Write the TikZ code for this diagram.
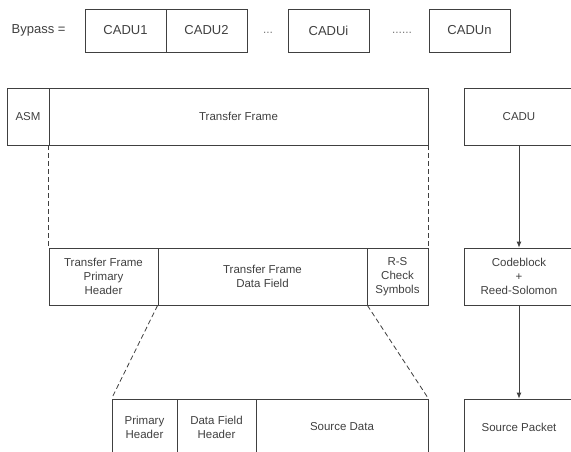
\documentclass[tikz,border=0pt]{standalone}
\usepackage{fontspec}
\setmainfont{Liberation Sans}
\usetikzlibrary{arrows.meta}

\begin{document}
\begin{tikzpicture}[x=1pt, y=-1pt,
        field/.style={draw=black!75, line width=0.8pt, text=black!75, align=center,
            inner sep=0pt, font=\fontsize{11.5}{14}\selectfont},
        cadu/.style={field, minimum width=81, minimum height=43, font=\fontsize{13}{15}\selectfont},
        gap/.style={text=black!75, inner sep=0pt, font=\fontsize{10}{10}\selectfont},
        split/.style={dashed, draw=black!75, line width=0.8pt, dash pattern=on 5pt off 3pt},
        flow/.style={draw=black!75, line width=0.8pt, -{Latex[length=6pt, width=5pt]}}]
    \useasboundingbox (0,0) rectangle (571,452);

    % bypass stream
    \node[text=black!75, font=\fontsize{13}{15}\selectfont, anchor=east] (bypass) at (69,30.5) {Bypass =};
    \node[cadu] (cadu1) at (125.5,30.5) {CADU1};
    \node[cadu] (cadu2) at (206.5,30.5) {CADU2};
    \node[gap] (dots1) at (268,34) {···};
    \node[cadu] (cadui) at (328.5,30.5) {CADUi};
    \node[gap] (dots2) at (402,34) {······};
    \node[cadu] (cadun) at (469.5,30.5) {CADUn};

    % frame
    \node[field, minimum width=42, minimum height=57] (asm) at (28,116.5) {ASM};
    \node[field, minimum width=379, minimum height=57] (tf) at (238.5,116.5) {Transfer Frame};

    \node[field, minimum width=109, minimum height=57] (tfph) at (103.5,276.5) {Transfer Frame\\Primary\\Header};
    \node[field, minimum width=209, minimum height=57] (tfdf) at (262.5,276.5) {Transfer Frame\\Data Field};
    \node[field, minimum width=61, minimum height=57] (rs) at (397.5,276.5) {R-S\\Check\\Symbols};

    \node[field, minimum width=65, minimum height=56] (ph) at (144.5,427) {Primary\\Header};
    \node[field, minimum width=79, minimum height=56] (dfh) at (216.5,427) {Data Field\\Header};
    \node[field, minimum width=172, minimum height=56] (sd) at (342,427) {Source Data};

    \draw[split] (tf.south west) -- (tfph.north west);
    \draw[split] (tf.south east) -- (rs.north east);
    \draw[split] (tfdf.south west) -- (ph.north west);
    \draw[split] (tfdf.south east) -- (sd.north east);

    % layers
    \node[field, minimum width=110, minimum height=57] (caduL) at (519,116.5) {CADU};
    \node[field, minimum width=110, minimum height=57] (code) at (519,276.5) {Codeblock\\+\\Reed-Solomon};
    \node[field, minimum width=110, minimum height=56] (packet) at (519,427) {Source Packet};

    \draw[flow] (caduL) -- (code);
    \draw[flow] (code) -- (packet);
\end{tikzpicture}
\end{document}
